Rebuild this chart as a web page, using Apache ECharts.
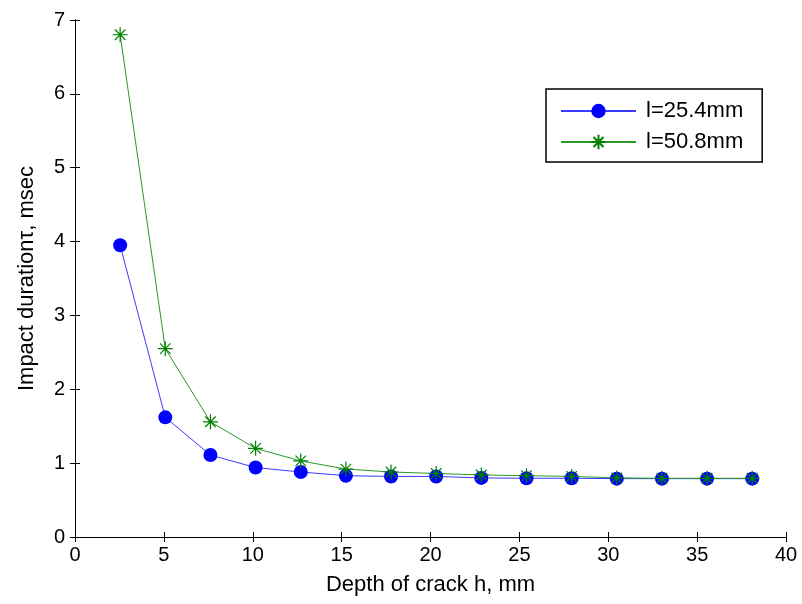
<!DOCTYPE html>
<html>
<head>
<meta charset="utf-8">
<script src="https://cdn.jsdelivr.net/npm/echarts@6/dist/echarts.min.js"></script>
<style>
  html, body { margin: 0; padding: 0; background: #fff; }
  #chart { width: 802px; height: 604px; }
</style>
</head>
<body>
<div id="chart"></div>
<script>
// crack depth h (mm)
const depth = [2.54, 5.08, 7.62, 10.16, 12.7, 15.24, 17.78, 20.32, 22.86, 25.4, 27.94, 30.48, 33.02, 35.56, 38.1]
// impact duration (msec)
const dur254 = [3.95, 1.62, 1.11, 0.94, 0.88, 0.83, 0.82, 0.82, 0.80, 0.795, 0.795, 0.79, 0.79, 0.79, 0.79]
const dur508 = [6.80, 2.55, 1.56, 1.20, 1.03, 0.92, 0.88, 0.86, 0.84, 0.83, 0.82, 0.80, 0.795, 0.795, 0.795]
const seriesNames = ['l=25.4mm', 'l=50.8mm']

const font = 'Liberation Sans, Arial, Helvetica, sans-serif'
const star = 'path://M0,-10L0,10M-10,0L10,0M-7,-7L7,7M-7,7L7,-7'

const chart = echarts.init(document.getElementById('chart'))

const frameAxis = {
  axisLine: { show: true, lineStyle: { color: '#000', width: 1 } },
  axisTick: { show: true, inside: true, length: 5, lineStyle: { color: '#000' } },
  splitLine: { show: false }
}

chart.setOption({
  animation: false,
  backgroundColor: '#fff',
  grid: { left: 75, right: 16, top: 20, bottom: 67 },
  xAxis: [
    {
      ...frameAxis,
      type: 'value', min: 0, max: 40, interval: 5,
      name: 'Depth of crack h, mm',
      nameLocation: 'middle', nameGap: 37,
      nameTextStyle: { color: '#000', fontSize: 22, fontFamily: font },
      axisLabel: { color: '#000', fontSize: 20, fontFamily: font, margin: 8 }
    },
    {
      ...frameAxis,
      type: 'value', min: 0, max: 40, interval: 5, position: 'top',
      axisLabel: { show: false }
    }
  ],
  yAxis: [
    {
      ...frameAxis,
      type: 'value', min: 0, max: 7, interval: 1,
      name: 'Impact durationτ, msec',
      nameLocation: 'middle', nameGap: 37,
      nameTextStyle: { color: '#000', fontSize: 22, fontFamily: font },
      axisLabel: { color: '#000', fontSize: 20, fontFamily: font, margin: 10 }
    },
    {
      ...frameAxis,
      type: 'value', min: 0, max: 7, interval: 1, position: 'right',
      axisLabel: { show: false }
    }
  ],
  legend: {
    left: 546, top: 89,
    orient: 'vertical',
    data: seriesNames,
    itemWidth: 75, itemHeight: 18, itemGap: 9,
    padding: [11, 19, 9, 14],
    borderColor: '#000', borderWidth: 1.5, borderRadius: 0,
    backgroundColor: '#fff',
    textStyle: { color: '#000', fontSize: 22, fontFamily: font, padding: [0, 0, 0, 5] }
  },
  series: [
    {
      name: seriesNames[0],
      type: 'line',
      data: depth.map((h, i) => [h, dur254[i]]),
      symbol: 'circle', symbolSize: 14,
      lineStyle: { color: '#3b3bff', width: 1 },
      itemStyle: { color: '#0000ff' }
    },
    {
      name: seriesNames[1],
      type: 'line',
      data: depth.map((h, i) => [h, dur508[i]]),
      symbol: star, symbolSize: 15,
      lineStyle: { color: '#2a9a2a', width: 1 },
      itemStyle: { color: 'none', borderColor: '#008000', borderWidth: 1.2 }
    }
  ]
})
</script>
</body>
</html>
